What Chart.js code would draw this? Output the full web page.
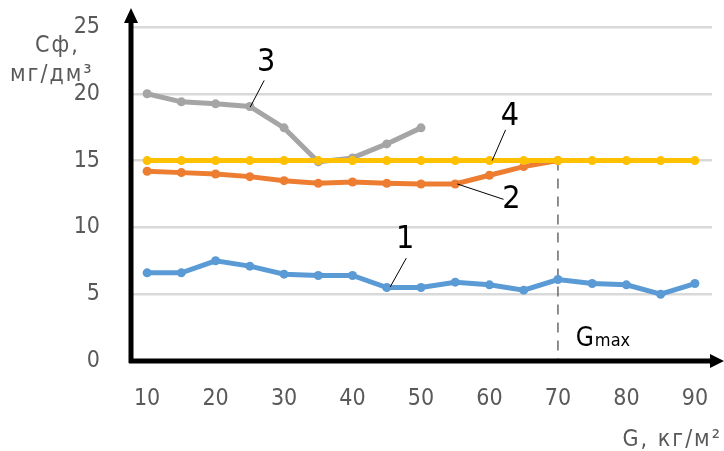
<!DOCTYPE html>
<html>
<head>
<meta charset="utf-8">
<script src="https://cdn.jsdelivr.net/npm/chart.js@4"></script>
<style>
  html, body { margin: 0; padding: 0; background: #fff; }
  #wrap { width: 724px; height: 451px; }
</style>
</head>
<body>
<div id="wrap"><canvas id="FirstChart" width="724" height="451"></canvas></div>
<script>
// G, kg/m2 categories (labels shown every 10)
const loads = ['10', '15', '20', '25', '30', '35', '40', '45', '50', '55', '60', '65', '70', '75', '80', '85', '90'];

// Cf, mg/dm3 for each curve
const curve1 = [6.6, 6.6, 7.5, 7.1, 6.5, 6.4, 6.4, 5.5, 5.5, 5.9, 5.7, 5.3, 6.1, 5.8, 5.7, 5.0, 5.8];
const curve2 = [14.2, 14.1, 14.0, 13.8, 13.5, 13.3, 13.4, 13.3, 13.25, 13.25, 13.9, 14.55, 15.0];
const curve3 = [20.0, 19.4, 19.25, 19.05, 17.45, 14.9, 15.2, 16.25, 17.45];
const curve4 = [15, 15, 15, 15, 15, 15, 15, 15, 15, 15, 15, 15, 15, 15, 15, 15, 15];

const yTicks = [0, 5, 10, 15, 20, 25];
const gMax = '70';

const FONT = "'Liberation Sans Narrow', 'DejaVu Sans Condensed', 'Roboto', sans-serif";
const GREY = '#595959';

function line(color, data, order) {
    return {
        data: data,
        borderColor: color,
        backgroundColor: color,
        borderWidth: 5,
        pointRadius: 4.5,
        pointBorderWidth: 0,
        pointBackgroundColor: color,
        tension: 0,
        fill: false,
        order: order
    };
}

// axes with arrows, curve numbers, Gmax marker and axis titles
const extras = {
    id: 'extras',
    beforeDatasetsDraw(chart) {
        const c = chart.ctx;
        const a = chart.chartArea;
        const x = chart.scales.x;
        const y = chart.scales.y;
        // dashed Gmax line
        const gi = loads.indexOf(gMax);
        c.save();
        c.strokeStyle = '#6b6b6b';
        c.lineWidth = 1.5;
        c.setLineDash([10, 8]);
        c.beginPath();
        c.moveTo(x.getPixelForValue(gi), y.getPixelForValue(15));
        c.lineTo(x.getPixelForValue(gi), a.bottom);
        c.stroke();
        c.restore();
    },
    afterDatasetsDraw(chart) {
        const c = chart.ctx;
        const a = chart.chartArea;
        const x = chart.scales.x;
        const y = chart.scales.y;
        const P = (i, v) => [x.getPixelForValue(i), y.getPixelForValue(v)];
        c.save();
        // black axes
        c.strokeStyle = '#000';
        c.fillStyle = '#000';
        c.lineWidth = 5;
        c.beginPath();
        c.moveTo(a.left + 1, a.bottom + 2);
        c.lineTo(a.left + 1, 20);
        c.moveTo(a.left - 1, a.bottom);
        c.lineTo(714, a.bottom);
        c.stroke();
        c.beginPath();
        c.moveTo(a.left + 1, 8);
        c.lineTo(a.left - 6, 23);
        c.lineTo(a.left + 8, 23);
        c.closePath();
        c.fill();
        c.beginPath();
        c.moveTo(724, a.bottom);
        c.lineTo(710, a.bottom - 7);
        c.lineTo(710, a.bottom + 7);
        c.closePath();
        c.fill();

        // leader lines
        c.lineWidth = 1;
        const leaders = [
            [[7.1, 5.54], [7.57, 7.7]],
            [[9.06, 13.25], [10.41, 12.1]],
            [[3.01, 19.0], [3.42, 21.0]],
            [[10.08, 15.0], [10.47, 17.3]]
        ];
        leaders.forEach(function (l) {
            const p0 = P(l[0][0], l[0][1]);
            const p1 = P(l[1][0], l[1][1]);
            c.beginPath();
            c.moveTo(p0[0], p0[1]);
            c.lineTo(p1[0], p1[1]);
            c.stroke();
        });

        // curve numbers
        c.font = '32px ' + FONT;
        c.textAlign = 'center';
        c.textBaseline = 'middle';
        const nums = [['1', 7.54, 9.06], ['2', 10.64, 12.05], ['3', 3.48, 22.3], ['4', 10.6, 18.3]];
        nums.forEach(function (n) {
            const p = P(n[1], n[2]);
            c.fillText(n[0], p[0], p[1]);
        });

        // Gmax
        const g = P(loads.indexOf(gMax) + 0.52, 1.1);
        c.textAlign = 'left';
        c.textBaseline = 'alphabetic';
        c.font = '26px ' + FONT;
        c.fillText('G', g[0], g[1]);
        const gw = c.measureText('G').width;
        c.font = '18px ' + FONT;
        c.fillText('max', g[0] + gw + 1, g[1]);

        // axis titles
        c.fillStyle = GREY;
        c.font = '23px ' + FONT;
        c.letterSpacing = '2px';
        c.fillText('Сф,', 35, 52);
        c.fillText('мг/дм³', 10, 81);
        c.textAlign = 'right';
        c.fillText('G, кг/м²', 722, 446);
        c.restore();
    }
};

const ctx = document.getElementById('FirstChart').getContext('2d');
const FirstChart = new Chart(ctx, {
    type: 'line',
    data: {
        labels: loads,
        datasets: [
            line('#5B9BD5', curve1, 4),
            line('#ED7D31', curve2, 3),
            line('#A5A5A5', curve3, 2),
            line('#FFC000', curve4, 1)
        ]
    },
    options: {
        responsive: false,
        animation: false,
        layout: { padding: { left: 0, top: 27, right: 12, bottom: 0 } },
        plugins: {
            legend: { display: false },
            tooltip: { enabled: false }
        },
        scales: {
            x: {
                type: 'category',
                offset: true,
                grid: { display: false, drawTicks: false },
                border: { display: false },
                ticks: {
                    autoSkip: false,
                    maxRotation: 0,
                    padding: 24,
                    color: GREY,
                    font: { family: FONT, size: 23 },
                    callback: function (v) {
                        const s = this.getLabelForValue(v);
                        return Number(s) % 10 === 0 ? s : '';
                    }
                },
                afterFit: function (s) {
                    s.height = 90;
                    s.paddingLeft = 0;
                    s.paddingRight = 0;
                }
            },
            y: {
                min: 0,
                max: 25,
                afterBuildTicks: function (s) { s.ticks = yTicks.map(v => ({ value: v })); },
                grid: { color: '#d9d9d9', lineWidth: 2.5, drawTicks: false },
                border: { display: false },
                ticks: {
                    padding: 30,
                    color: GREY,
                    font: { family: FONT, size: 23 }
                },
                afterFit: function (s) {
                    s.width = 130;
                    s.paddingTop = 0;
                    s.paddingBottom = 0;
                }
            }
        }
    },
    plugins: [extras]
});
</script>
</body>
</html>
